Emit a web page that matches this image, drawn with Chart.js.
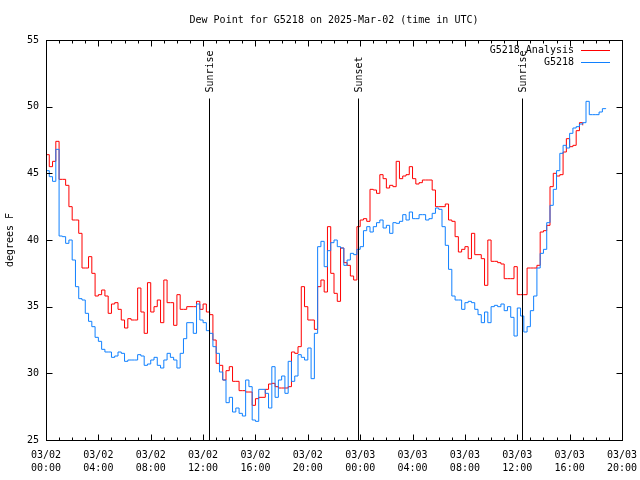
<!DOCTYPE html>
<html>
<head>
<meta charset="utf-8">
<script src="https://cdn.jsdelivr.net/npm/chart.js@4.4.1/dist/chart.umd.min.js"></script>
<style>
  html, body { margin: 0; padding: 0; background: #fff; }
</style>
</head>
<body>
<canvas id="dewChart" width="640" height="480"></canvas>
<script>
// hours since 03/02 00:00 UTC, one sample every 15 minutes
const stepHours = 0.25;

const analysisValues = [
  46.4, 45.5, 45.9, 47.4, 44.55, 44.55, 44.1, 42.5, 41.5, 41.5, 40.5, 37.9,
  37.9, 38.75, 37.5, 35.8, 35.9, 36.25, 35.8, 34.5, 35.2, 35.3, 34.8, 34.0,
  33.4, 34.1, 34.0, 34.0, 36.4, 34.6, 33.0, 36.8, 34.6, 35.0, 35.5, 33.8,
  37.0, 35.3, 35.3, 33.6, 35.9, 34.8, 34.8, 35.0, 35.0, 35.0, 35.4, 34.8,
  35.2, 34.6, 34.4, 32.5, 30.75, 30.6, 29.5, 30.2, 30.5, 29.4, 29.4, 28.7,
  28.7, 28.6, 28.6, 27.6, 28.1, 28.2, 28.2, 28.8, 29.2, 29.25, 29.0, 28.9,
  28.9, 28.9, 29.0, 31.6, 31.5, 32.0, 36.5, 35.0, 34.0, 34.0, 33.3, 36.5,
  37.0, 36.1, 41.0, 37.5, 36.0, 35.4, 39.4, 38.3, 38.1, 37.3, 37.0, 41.0,
  41.5, 41.6, 41.4, 43.8, 43.75, 43.5, 44.9, 44.6, 43.9, 44.1, 44.0, 45.9,
  44.6, 44.8, 44.9, 45.5, 44.6, 44.2, 44.3, 44.5, 44.5, 44.5, 43.75, 42.5,
  42.5, 42.5, 42.7, 41.5, 41.4, 40.25, 39.1, 39.3, 39.5, 38.6, 40.5, 38.9,
  38.9, 38.6, 36.6, 40.0, 38.4, 38.4, 38.3, 38.2, 37.1, 37.1, 37.1, 38.0,
  35.9, 35.9, 35.9, 37.9, 37.9, 37.9, 38.1, 40.6, 40.7, 41.1, 44.0, 45.0,
  44.8, 44.9, 46.6, 47.6, 47.0, 47.1, 48.2, 48.8, 48.6
];

const stationValues = [
  45.2, 44.75, 44.4, 46.8, 40.3, 40.25, 39.75, 40.0, 38.5, 36.5, 35.6, 35.5,
  34.5, 33.9, 33.5, 32.7, 32.4, 31.8, 31.6, 31.6, 31.2, 31.3, 31.6, 31.5,
  30.9, 31.0, 31.0, 31.0, 31.4, 31.3, 30.6, 30.7, 31.0, 31.2, 30.6, 30.4,
  31.0, 31.5, 31.2, 31.0, 30.4, 31.5, 32.6, 33.8, 33.8, 33.0, 35.2, 34.0,
  33.8, 33.2, 33.0, 32.0, 31.5, 30.1, 29.5, 27.8, 28.2, 27.1, 27.4, 27.0,
  26.8, 29.5, 29.0, 26.5, 26.4, 28.8, 28.8, 28.5, 27.4, 30.5, 28.2, 29.5,
  29.8, 28.5, 30.9, 29.4, 29.8, 31.4, 31.2, 31.0, 31.9, 29.6, 33.0, 39.5,
  39.9, 38.0, 39.2, 39.8, 40.0, 39.5, 39.4, 38.1, 38.5, 39.0, 38.9, 39.3,
  39.5, 40.7, 41.0, 40.6, 41.0, 41.3, 41.5, 40.9, 41.1, 40.5, 41.3, 41.25,
  41.4, 41.9, 41.5, 42.1, 41.6, 41.6, 41.9, 41.9, 41.5, 41.6, 42.0, 42.4,
  42.3, 41.0, 39.6, 37.8, 35.8, 35.5, 35.5, 34.8, 35.3, 35.4, 35.3, 34.8,
  34.4, 33.8, 34.6, 33.8, 35.0, 35.1, 35.0, 35.2, 34.7, 35.0, 34.2, 32.8,
  34.9, 34.3, 33.1, 33.5, 34.7, 35.8, 37.9, 39.0, 39.3, 41.3, 42.6, 43.8,
  45.2, 46.5, 47.1, 46.9, 48.0, 48.4, 48.5, 48.7, 48.8, 50.4, 49.4, 49.4,
  49.4, 49.6, 49.85, 49.9
];

const tickDates = ["03/02", "03/02", "03/02", "03/02", "03/02", "03/02",
                   "03/03", "03/03", "03/03", "03/03", "03/03", "03/03"];
const tickTimes = ["00:00", "04:00", "08:00", "12:00", "16:00", "20:00",
                   "00:00", "04:00", "08:00", "12:00", "16:00", "20:00"];

const sunLabels = ["Sunrise", "Sunset", "Sunrise"];
const sunHours = [12.47, 23.86, 36.39];

const FONT = "DejaVu Sans Mono";

function toPoints(values) {
  return values.map((v, i) => ({ x: i * stepHours, y: v }));
}

// gnuplot style frame: border, inward ticks, sun markers, legend, title
const frame = {
  id: "frame",
  afterDatasetsDraw(chart) {
    const ctx = chart.ctx;
    const a = chart.chartArea;
    const xs = chart.scales.x;
    const ys = chart.scales.y;
    const L = Math.round(a.left) + 0.5, R = Math.round(a.right) + 0.5;
    const T = Math.round(a.top) + 0.5, B = Math.round(a.bottom) + 0.5;
    ctx.save();
    ctx.strokeStyle = "#000";
    ctx.lineWidth = 1;

    // sunrise / sunset lines
    ctx.beginPath();
    sunHours.forEach(h => {
      const px = Math.round(xs.getPixelForValue(h)) + 0.5;
      ctx.moveTo(px, T + 58);
      ctx.lineTo(px, B);
    });
    ctx.stroke();

    ctx.strokeRect(L, T, R - L, B - T);

    ctx.beginPath();
    xs.ticks.forEach(t => {
      const px = Math.round(xs.getPixelForValue(t.value)) + 0.5;
      const len = t.value % 4 === 0 ? 6 : 3;
      ctx.moveTo(px, B); ctx.lineTo(px, B - len);
      ctx.moveTo(px, T); ctx.lineTo(px, T + len);
    });
    ys.ticks.forEach(t => {
      const py = Math.round(ys.getPixelForValue(t.value)) + 0.5;
      ctx.moveTo(L, py); ctx.lineTo(L + 6, py);
      ctx.moveTo(R, py); ctx.lineTo(R - 6, py);
    });
    ctx.stroke();

    ctx.fillStyle = "#000";
    ctx.font = "10px '" + FONT + "'";
    sunHours.forEach((h, i) => {
      const px = xs.getPixelForValue(h) + 1;
      ctx.save();
      ctx.translate(px, T + 52);
      ctx.rotate(-Math.PI / 2);
      ctx.textAlign = "left";
      ctx.textBaseline = "middle";
      ctx.fillText(sunLabels[i], 0, 0);
      ctx.restore();
    });

    // legend
    ctx.textAlign = "right";
    ctx.textBaseline = "middle";
    chart.data.datasets.forEach((ds, i) => {
      const y = T + 10 + i * 12;
      ctx.fillStyle = "#000";
      ctx.fillText(ds.label, 574, y);
      ctx.strokeStyle = ds.borderColor;
      ctx.beginPath();
      ctx.moveTo(581, Math.round(y) - 0.5);
      ctx.lineTo(610, Math.round(y) - 0.5);
      ctx.stroke();
    });

    // title
    ctx.fillStyle = "#000";
    ctx.textAlign = "center";
    ctx.fillText("Dew Point for G5218 on 2025-Mar-02 (time in UTC)", (a.left + a.right) / 2, 20);
    ctx.restore();
  }
};

new Chart(document.getElementById("dewChart"), {
  type: "line",
  data: {
    datasets: [
      {
        label: "G5218 Analysis",
        data: toPoints(analysisValues),
        borderColor: "#ff0000",
        borderWidth: 1,
        pointRadius: 0,
        stepped: "before",
        order: 1
      },
      {
        label: "G5218",
        data: toPoints(stationValues),
        borderColor: "#1080ff",
        borderWidth: 1,
        pointRadius: 0,
        stepped: "before",
        order: 0
      }
    ]
  },
  options: {
    responsive: false,
    animation: false,
    layout: { padding: { top: 40, right: 18, left: 0, bottom: 0 } },
    plugins: {
      legend: { display: false },
      tooltip: { enabled: false }
    },
    scales: {
      x: {
        type: "linear",
        min: 0,
        max: 44,
        grid: { display: false, drawTicks: false },
        border: { display: false },
        afterFit: function (scale) {
          scale.height = 40;
          scale.paddingLeft = 0;
          scale.paddingRight = 0;
        },
        ticks: {
          stepSize: 1,
          autoSkip: false,
          maxRotation: 0,
          padding: 9,
          color: "#000",
          font: { family: FONT, size: 10, lineHeight: 1.3 },
          callback: function (v) {
            if (v % 4 !== 0) return "";
            const k = v / 4;
            return [tickDates[k], tickTimes[k]];
          }
        }
      },
      y: {
        min: 25,
        max: 55,
        grid: { display: false, drawTicks: false },
        border: { display: false },
        afterFit: function (scale) {
          scale.width = 46;
          scale.paddingTop = 0;
          scale.paddingBottom = 0;
        },
        ticks: {
          stepSize: 5,
          padding: 7,
          color: "#000",
          font: { family: FONT, size: 10 }
        },
        title: {
          display: true,
          text: "degrees F",
          color: "#000",
          font: { family: FONT, size: 10 },
          padding: { top: 4, bottom: 0 }
        }
      }
    }
  },
  plugins: [frame]
});
</script>
</body>
</html>
